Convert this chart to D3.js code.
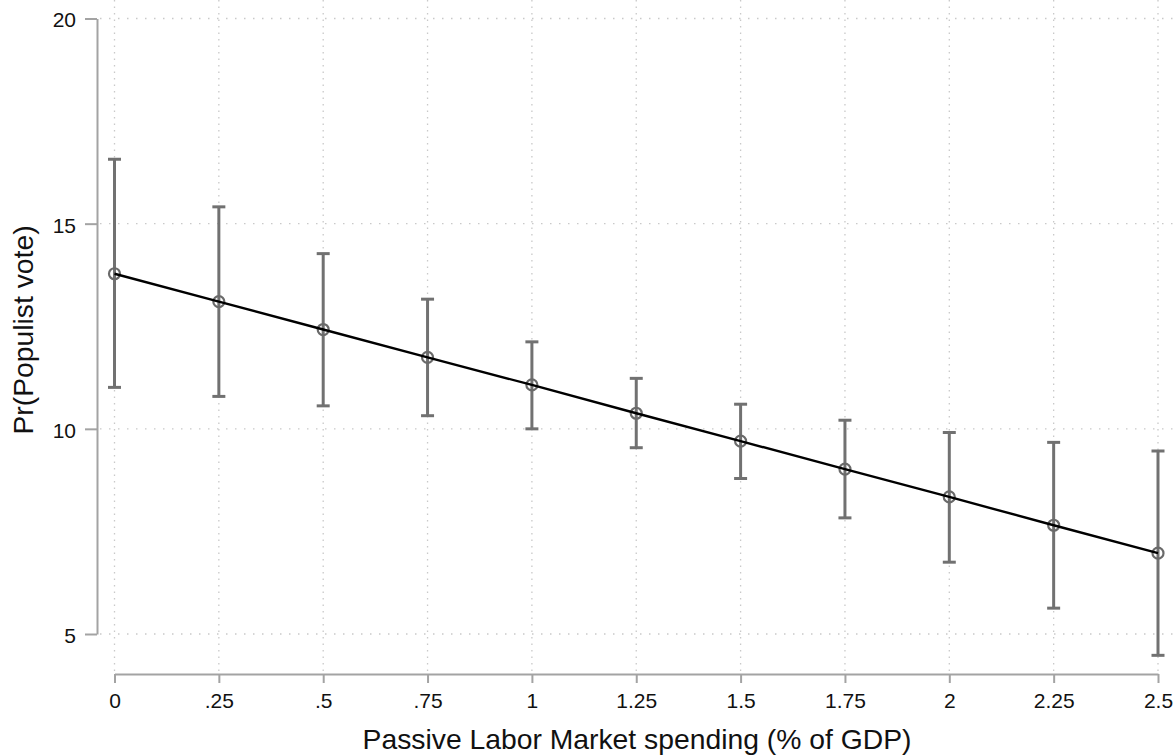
<!DOCTYPE html>
<html>
<head>
<meta charset="utf-8">
<script src="https://cdn.jsdelivr.net/npm/d3@7"></script>
<style>
  html, body { margin: 0; padding: 0; background: #fff; }
  svg { display: block; }
  text { font-family: "Liberation Sans", Arial, Helvetica, sans-serif; fill: #111; }
</style>
</head>
<body>
<svg id="chart" width="1174" height="756"></svg>
<script>
// ---- data ----
const xValues   = [0, 0.25, 0.5, 0.75, 1, 1.25, 1.5, 1.75, 2, 2.25, 2.5];
const estimates = [13.78, 13.10, 12.42, 11.74, 11.07, 10.38, 9.70, 9.02, 8.34, 7.65, 6.97];
const ciLower   = [11.01, 10.79, 10.56, 10.32, 10.00, 9.54, 8.79, 7.83, 6.75, 5.63, 4.48];
const ciUpper   = [16.57, 15.41, 14.27, 13.16, 12.12, 11.23, 10.60, 10.21, 9.91, 9.67, 9.46];
const xTickLabels = ["0", ".25", ".5", ".75", "1", "1.25", "1.5", "1.75", "2", "2.25", "2.5"];
const yTicks = [5, 10, 15, 20];
const xTitle = "Passive Labor Market spending (% of GDP)";
const yTitle = "Pr(Populist vote)";

// ---- layout ----
const svg = d3.select("#chart");
const x = d3.scaleLinear().domain([0, 2.5]).range([114.5, 1158]);
const y = d3.scaleLinear().domain([5, 20]).range([634, 18.5]);
const plotTop = 0, plotBottom = 674, yAxisX = 97, plotRight = 1174;

const data = xValues.map((v, i) => ({x: v, est: estimates[i], lo: ciLower[i], hi: ciUpper[i], label: xTickLabels[i]}));

// ---- grid ----
const grid = svg.append("g");
grid.selectAll("line.hg").data(yTicks).join("line")
  .attr("x1", yAxisX + 3).attr("x2", plotRight)
  .attr("y1", d => y(d)).attr("y2", d => y(d))
  .attr("stroke", "#c9c9c9").attr("stroke-width", 1.3).attr("stroke-dasharray", "1.5,7.5");
grid.selectAll("line.vg").data(xValues).join("line")
  .attr("x1", d => x(d)).attr("x2", d => x(d))
  .attr("y1", plotTop).attr("y2", plotBottom)
  .attr("stroke", "#c9c9c9").attr("stroke-width", 1.3).attr("stroke-dasharray", "1.5,5");

// ---- axes ----
const yAxis = d3.axisLeft(y).tickValues(yTicks).tickSize(12).tickSizeOuter(0).tickPadding(9).tickFormat(d3.format("d"));
const gy = svg.append("g").attr("transform", `translate(${yAxisX},0)`).call(yAxis);
gy.select(".domain").attr("stroke", "#a3a3a3").attr("stroke-width", 2);
gy.selectAll(".tick line").attr("stroke", "#a3a3a3").attr("stroke-width", 2);
gy.selectAll(".tick text").attr("font-size", 21).attr("dy", "0.4em").style("fill", "#111")
  .attr("font-family", "'Liberation Sans', Arial, sans-serif");

const xAxis = d3.axisBottom(x).tickValues(xValues).tickSize(9).tickSizeOuter(0).tickPadding(10)
  .tickFormat((d, i) => xTickLabels[i]);
const gx = svg.append("g").attr("transform", `translate(0,${plotBottom})`).call(xAxis);
gx.select(".domain").attr("stroke", "#a3a3a3").attr("stroke-width", 2);
gx.selectAll(".tick line").attr("stroke", "#a3a3a3").attr("stroke-width", 2);
gx.selectAll(".tick text").attr("font-size", 21).style("fill", "#111")
  .attr("font-family", "'Liberation Sans', Arial, sans-serif");

// ---- titles ----
svg.append("text").attr("x", 637).attr("y", 749)
  .attr("text-anchor", "middle").attr("font-size", 28.3).text(xTitle);
svg.append("text").attr("transform", `translate(33,${330}) rotate(-90)`)
  .attr("text-anchor", "middle").attr("font-size", 28.3).text(yTitle);

// ---- error bars ----
const eb = svg.append("g").attr("stroke", "#717171").attr("stroke-width", 3);
eb.selectAll("line.v").data(data).join("line")
  .attr("x1", d => x(d.x)).attr("x2", d => x(d.x))
  .attr("y1", d => y(d.lo)).attr("y2", d => y(d.hi));
eb.selectAll("line.top").data(data).join("line")
  .attr("x1", d => x(d.x) - 6.5).attr("x2", d => x(d.x) + 6.5)
  .attr("y1", d => y(d.hi)).attr("y2", d => y(d.hi));
eb.selectAll("line.bot").data(data).join("line")
  .attr("x1", d => x(d.x) - 6.5).attr("x2", d => x(d.x) + 6.5)
  .attr("y1", d => y(d.lo)).attr("y2", d => y(d.lo));

// ---- markers ----
svg.append("g").selectAll("circle").data(data).join("circle")
  .attr("cx", d => x(d.x)).attr("cy", d => y(d.est)).attr("r", 5.5)
  .attr("fill", "none").attr("stroke", "#6a6a6a").attr("stroke-width", 2.2);

// ---- line ----
svg.append("path").datum(data)
  .attr("d", d3.line().x(d => x(d.x)).y(d => y(d.est)))
  .attr("fill", "none").attr("stroke", "#000").attr("stroke-width", 2.4);
</script>
</body>
</html>
